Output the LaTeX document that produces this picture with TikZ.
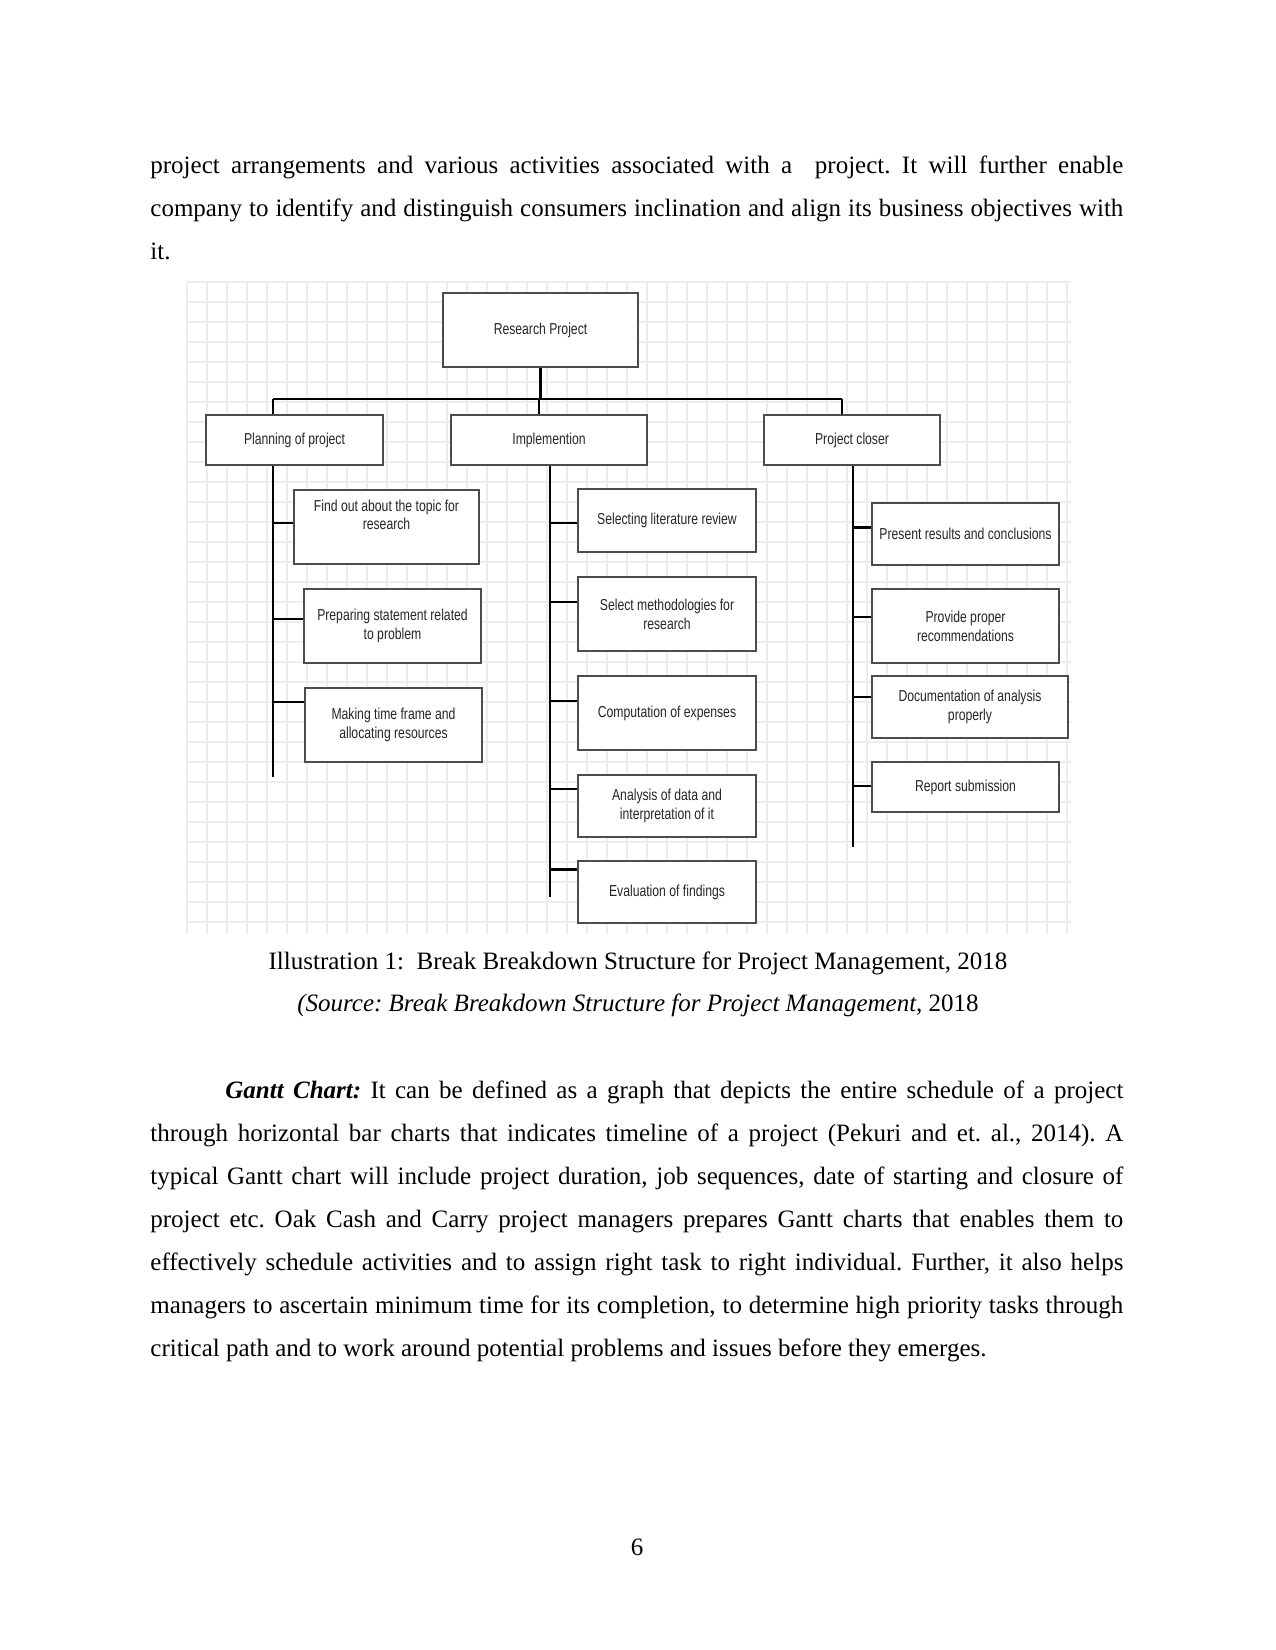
\documentclass[tikz,border=0pt]{standalone}
\usepackage{fontspec}
\setmainfont{Liberation Serif}
\newfontfamily\boxfont[FakeStretch=0.77]{Liberation Sans}
\usetikzlibrary{calc}

\newcommand{\fullline}[1]{\makebox[467pt][s]{#1}}

\begin{document}
\frenchspacing
\begin{tikzpicture}[x=0.48pt,y=-0.48pt,
  font=\fontsize{12pt}{14pt}\selectfont,
  txt/.style={anchor=base west, inner sep=0pt},
  captxt/.style={anchor=base, inner sep=0pt},
  sz/.style 2 args={minimum width=#1*0.48pt, minimum height=#2*0.48pt},
  wbs/.style={draw=black!70, line width=0.9pt, fill=white, align=center, inner sep=1pt,
    text=black!85, font=\boxfont\fontsize{7.6pt}{9pt}\selectfont},
  conn/.style={line width=1.2pt, black},
  gridln/.style={black!7, line width=0.5pt}
]
\useasboundingbox (0,0) rectangle (1275,1650);

% text above the figure
\node[txt] (t1) at (150,174) {\fullline{project arrangements and various activities associated with a \ project. It will further enable}};
\node[txt] (t2) at (150,217) {\fullline{company to identify and distinguish consumers inclination and align its business objectives with}};
\node[txt] (t3) at (150,260) {it.};

% grid paper behind the chart
\foreach \gx in {187,207,...,1071} \draw[gridln] (\gx,282) -- (\gx,934);
\foreach \gy in {282,302,...,934} \draw[gridln] (187,\gy) -- (1071,\gy);

% boxes
\node[wbs, sz={195}{74}] (root) at (540.5,330) {Research Project};
\node[wbs, sz={177}{50}] (plan) at (294.5,440) {Planning of project};
\node[wbs, sz={196}{50}] (impl) at (549,440) {Implemention};
\node[wbs, sz={176}{50}] (clos) at (852,440) {Project closer};

\node[wbs, sz={185}{74}] (p1) at (386.5,527) {Find out about the topic for\\research\\\strut};
\node[wbs, sz={177}{74}] (p2) at (392.5,626) {Preparing statement related\\to problem};
\node[wbs, sz={177}{74}] (p3) at (393.5,725) {Making time frame and\\allocating resources};

\node[wbs, sz={178}{63}] (i1) at (667,520.5) {Selecting literature review};
\node[wbs, sz={178}{74}] (i2) at (667,614) {Select methodologies for\\research};
\node[wbs, sz={178}{74}] (i3) at (667,713) {Computation of expenses};
\node[wbs, sz={178}{62}] (i4) at (667,806) {Analysis of data and\\interpretation of it};
\node[wbs, sz={178}{62}] (i5) at (667,892) {Evaluation of findings};

\node[wbs, sz={187}{62}] (c1) at (965.5,534) {Present results and conclusions};
\node[wbs, sz={187}{74}] (c2) at (965.5,626) {Provide proper\\recommendations};
\node[wbs, sz={196}{62}] (c3) at (970,707) {Documentation of analysis\\properly};
\node[wbs, sz={187}{50}] (c4) at (965.5,787) {Report submission};

% tree lines
\coordinate (bar) at (0,399);
\coordinate (s1) at (273,777);
\coordinate (s2) at (550,897);
\coordinate (s3) at (853,847);
\coordinate (d2) at (539,399);
\coordinate (d3) at (842,399);
\draw[conn] (root.south) -- (root.south |- bar);
\draw[conn] (s1 |- bar) -- (d3);
\draw[conn] (s1 |- bar) -- (s1 |- plan.north);
\draw[conn] (d2) -- (d2 |- impl.north);
\draw[conn] (d3) -- (d3 |- clos.north);
\draw[conn] (s1 |- plan.south) -- (s1);
\draw[conn] (s2 |- impl.south) -- (s2);
\draw[conn] (s3 |- clos.south) -- (s3);
\foreach \n/\f/\s in {p1/0.45/s1, p2/0.41/s1, p3/0.2/s1,
                      i1/0.54/s2, i2/0.34/s2, i3/0.34/s2, i4/0.23/s2, i5/0.15/s2,
                      c1/0.4/s3, c2/0.38/s3, c3/0.34/s3, c4/0.48/s3} {
  \coordinate (b) at ($(\n.north west)!\f!(\n.south west)$);
  \draw[conn] (\s |- b) -- (b);
}

% caption
\node[captxt] (cap1) at (638,969) {Illustration 1:\ \ Break Breakdown Structure for Project Management, 2018};
\node[captxt] (cap2) at (638,1011) {\textit{(Source: Break Breakdown Structure for Project Management}, 2018};

% text below the figure
\node[txt] (g1) at (225,1098) {\makebox[431pt][s]{\textbf{\textit{Gantt Chart:}} It can be defined as a graph that depicts the entire schedule of a project}};
\node[txt] (g2) at (150,1141) {\fullline{through horizontal bar charts that indicates timeline of a project (Pekuri and et. al., 2014). A}};
\node[txt] (g3) at (150,1184) {\fullline{typical Gantt chart will include project duration, job sequences, date of starting and closure of}};
\node[txt] (g4) at (150,1227) {\fullline{project etc. Oak Cash and Carry project managers prepares Gantt charts that enables them to}};
\node[txt] (g5) at (150,1270) {\fullline{effectively schedule activities and to assign right task to right individual. Further, it also helps}};
\node[txt] (g6) at (150,1313) {\fullline{managers to ascertain minimum time for its completion, to determine high priority tasks through}};
\node[txt] (g7) at (150,1356) {critical path and to work around potential problems and issues before they emerges.};

% page number
\node[captxt] (pgno) at (637,1555) {6};
\end{tikzpicture}
\end{document}
